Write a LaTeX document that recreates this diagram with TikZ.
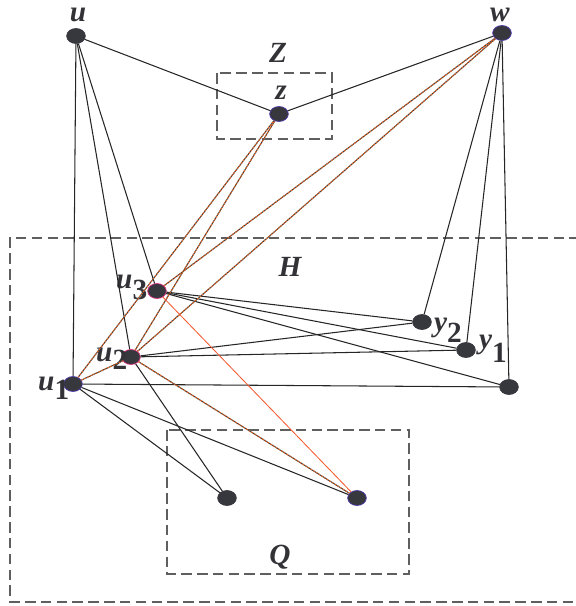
\documentclass[tikz,border=0pt]{standalone}
\usepackage{fontspec}
\setmainfont{Liberation Serif}
\usetikzlibrary{shapes.geometric}

\definecolor{vfill}{RGB}{55,55,62}
\definecolor{vblue}{RGB}{80,60,170}
\definecolor{vpink}{RGB}{225,50,130}
\definecolor{eorange}{RGB}{225,100,35}
\definecolor{ered}{RGB}{245,85,40}
\definecolor{boxgray}{RGB}{95,95,95}
\definecolor{labgray}{RGB}{50,50,55}

\newcommand{\sublbl}[3]{#1\raisebox{-#3}{\upshape #2}}

\begin{document}
\begin{tikzpicture}[x=0.03cm, y=-0.03cm,
    vert/.style={ellipse, fill=vfill, draw=vfill, minimum width=0.56cm, minimum height=0.45cm,
                 inner sep=0pt, line width=0.6pt},
    bvert/.style={vert, draw=vblue},
    pvert/.style={vert, draw=vpink},
    lbl/.style={text=labgray, font=\fontsize{25}{25}\selectfont\bfseries\itshape, inner sep=0pt},
    edge/.style={line width=0.9pt, black!85},
    oedge/.style={line width=0.9pt, draw=black!75,
                  postaction={draw=eorange, line width=0.9pt, dash pattern=on 1.5pt off 1.2pt}},
    redge/.style={line width=0.7pt, ered},
    group/.style={boxgray, line width=1pt, dash pattern=on 9pt off 4.5pt}
]
\useasboundingbox (0,0) rectangle (575,606);

% Dashed groups Z, H, Q
\draw[group] (217,73) rectangle (332,139);
\draw[group] (580,238) -- (10,238) -- (10,602) -- (580,602);
\draw[group] (167,430) rectangle (409,574);

% Vertices
\node[vert]  (u)  at (76,36)   {};
\node[bvert] (w)  at (502,33)  {};
\node[bvert] (z)  at (279,114) {};
\node[pvert] (u3) at (157,291) {};
\node[pvert] (u2) at (131,357) {};
\node[bvert] (u1) at (73,384)  {};
\node[vert]  (y2) at (422,322) {};
\node[vert]  (y1) at (466,350) {};
\node[vert]  (x)  at (509,387) {};
\node[vert]  (q1) at (227,498) {};
\node[bvert] (q2) at (357,498) {};

% Labels
\node[lbl, anchor=base, text height=0.45em, text depth=0pt] (lu) at (78,21) {u};
\node[lbl, anchor=base, text height=0.45em, text depth=0pt] (lw) at (500,21) {w};
\node[lbl] (lZ) at (278,53) {Z};
\node[lbl] (lz) at (281,93) {z};
\node[lbl] (lH) at (290,267) {H};
\node[lbl] (lQ) at (280,557) {Q};
\node[lbl, anchor=base west] (lu3) at (116,288) {\sublbl{u}{3}{10pt}};
\node[lbl, anchor=base west] (lu2) at (96,361)  {\sublbl{u}{2}{7pt}};
\node[lbl, anchor=base west] (lu1) at (38,390)  {\sublbl{u}{1}{8.5pt}};
\node[lbl, anchor=base west] (ly2) at (434,331) {\sublbl{y}{2}{10pt}};
\node[lbl, anchor=base west] (ly1) at (479,348) {\sublbl{y}{1}{12pt}};

% Black edges
\draw[edge] (u) -- (z);  \draw[edge] (w) -- (z);
\draw[edge] (u) -- (u1); \draw[edge] (u) -- (u2); \draw[edge] (u) -- (u3);
\draw[edge] (w) -- (y2); \draw[edge] (w) -- (y1); \draw[edge] (w) -- (x);
\draw[edge] (u3) -- (y2); \draw[edge] (u3) -- (y1); \draw[edge] (u3) -- (x);
\draw[edge] (u2) -- (y2); \draw[edge] (u2) -- (y1);
\draw[edge] (u1) -- (x);
\draw[edge] (u1) -- (q1); \draw[edge] (u1) -- (q2); \draw[edge] (u2) -- (q1);

% Orange edges
\draw[oedge] (u1) -- (z);  \draw[oedge] (u2) -- (z);
\draw[oedge] (u2) -- (w);  \draw[oedge] (u3) -- (w);
\draw[oedge] (u1) -- (u2); \draw[oedge] (u2) -- (q2);
\draw[redge] (u3) -- (q2);

\end{tikzpicture}
\end{document}
